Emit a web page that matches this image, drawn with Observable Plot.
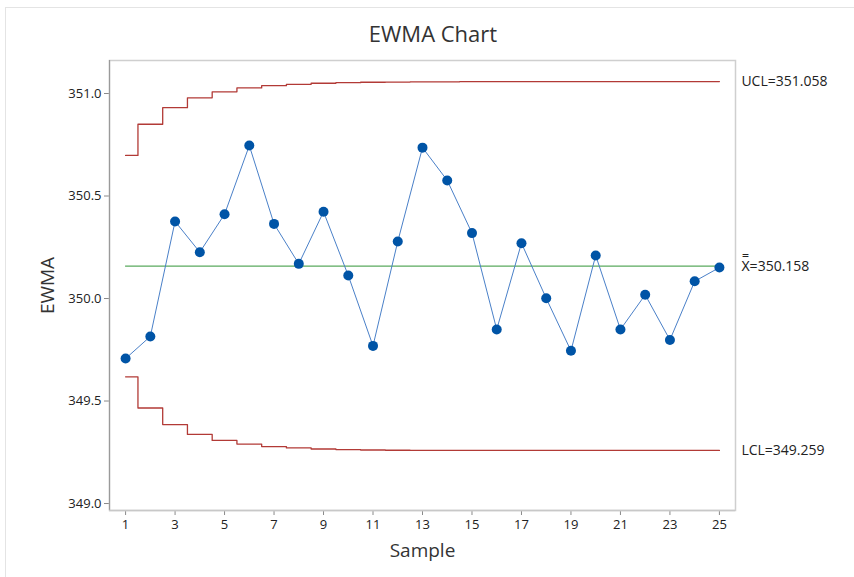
<!DOCTYPE html>
<html>
<head>
<meta charset="utf-8">
<script src="https://cdn.jsdelivr.net/npm/d3@7"></script>
<script src="https://cdn.jsdelivr.net/npm/@observablehq/plot@0.6"></script>
<style>
  html, body { margin: 0; padding: 0; background: #fff; }
  #wrap { position: relative; width: 854px; height: 577px; overflow: hidden; font-family: "Open Sans", "Noto Sans", sans-serif; }
  #edge { position: absolute; left: 5px; top: 7px; right: 0; bottom: 0; border-top: 1px solid #e4e4e4; border-left: 1px solid #e4e4e4; }
  #title { position: absolute; left: 6px; top: 0; width: 854px; height: 50px; text-align: center; font-size: 22px; line-height: 22px; padding-top: 22px; box-sizing: border-box; color: #333; }
  #chart { position: absolute; left: 0; top: 50px; }
</style>
</head>
<body>
<div id="wrap">
  <div id="edge"></div>
  <div id="title">EWMA Chart</div>
  <div id="chart"></div>
</div>
<script>
const samples = d3.range(1, 26);
const ewma = [349.707, 349.815, 350.376, 350.226, 350.411, 350.746, 350.364, 350.169, 350.423, 350.112,
              349.769, 350.278, 350.736, 350.576, 350.319, 349.849, 350.270, 350.001, 349.745, 350.210,
              349.849, 350.018, 349.798, 350.084, 350.151];
const ucl = [350.698, 350.850, 350.931, 350.979, 351.008, 351.027, 351.038, 351.045, 351.050, 351.053,
             351.055, 351.056, 351.057, 351.057, 351.058, 351.058, 351.058, 351.058, 351.058, 351.058,
             351.058, 351.058, 351.058, 351.058, 351.058];
const lcl = [349.618, 349.466, 349.385, 349.337, 349.308, 349.290, 349.278, 349.271, 349.266, 349.263,
             349.261, 349.260, 349.259, 349.259, 349.259, 349.259, 349.259, 349.259, 349.259, 349.259,
             349.259, 349.259, 349.259, 349.259, 349.259];
const center = 350.158;
const xTicks = [1, 3, 5, 7, 9, 11, 13, 15, 17, 19, 21, 23, 25];
const yTicks = [349.0, 349.5, 350.0, 350.5, 351.0];
const limitLabels = [
  {label: "UCL=351.058", value: 351.058},
  {label: "X\u033F=350.158", value: 350.158},
  {label: "LCL=349.259", value: 349.259}
];

const rows = samples.map((s, i) => ({s, v: ewma[i], u: ucl[i], l: lcl[i]}));

const chart = Plot.plot({
  width: 854,
  height: 527,
  marginLeft: 109,
  marginRight: 119,
  marginTop: 10,
  marginBottom: 67,
  style: {fontFamily: "'Open Sans', 'Noto Sans', sans-serif", fontSize: "13px", color: "#222", background: "transparent"},
  x: {domain: [0.35, 25.65], ticks: xTicks, tickSize: 5, tickPadding: 4, label: null},
  y: {domain: [348.966, 351.161], ticks: yTicks, tickFormat: d3.format(".1f"), tickSize: 5, tickPadding: 3, label: null},
  marks: [
    Plot.frame({stroke: "#cfcfcf", strokeWidth: 1.5}),
    Plot.ruleX([0.35], {stroke: "#9a9a9a", strokeWidth: 1.2}),
    Plot.ruleY([348.966], {stroke: "#c8c8c8", strokeWidth: 1.5}),
    Plot.lineY(rows, {x: "s", y: "u", curve: "step", stroke: "#b23a36", strokeWidth: 1.3}),
    Plot.lineY(rows, {x: "s", y: "l", curve: "step", stroke: "#b23a36", strokeWidth: 1.3}),
    Plot.ruleY([center], {x1: 1, x2: 25, stroke: "#5aaa5e", strokeWidth: 1.3}),
    Plot.lineY(rows, {x: "s", y: "v", stroke: "#4a80c8", strokeWidth: 1}),
    Plot.dot(rows, {x: "s", y: "v", r: 5, fill: "#0054a6", stroke: "none"}),
    Plot.text(limitLabels, {x: 25, y: "value", text: "label", dx: 22, textAnchor: "start", fontSize: 14, fill: "#222"}),
    Plot.text(["Sample"], {frameAnchor: "bottom", lineAnchor: "middle", dy: 40, fontSize: 19, fill: "#333"}),
    Plot.text(["EWMA"], {frameAnchor: "left", textAnchor: "middle", lineAnchor: "middle", dx: -62, rotate: -90, fontSize: 19, fill: "#333"})
  ]
});
d3.select(chart).selectAll("[aria-label$='tick'] path, [aria-label$='tick'] line").attr("stroke", "#8a8a8a");
document.getElementById("chart").appendChild(chart);
</script>
</body>
</html>
